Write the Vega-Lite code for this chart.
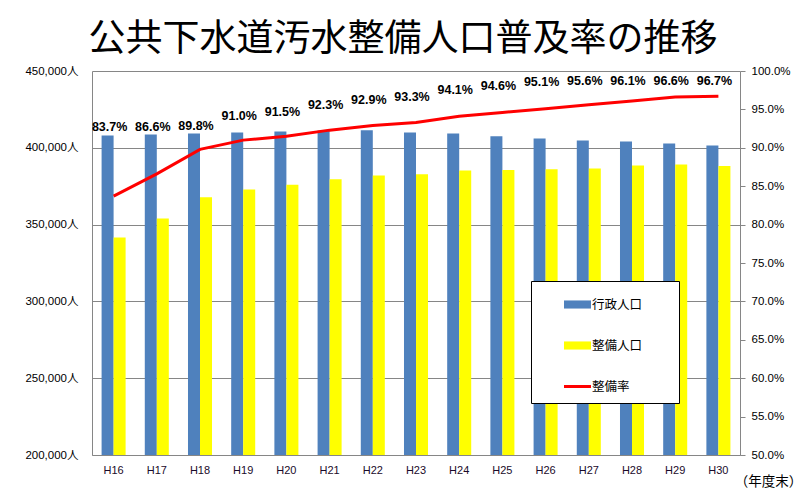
{
  "$schema": "https://vega.github.io/schema/vega-lite/v6.json",
  "width": 648,
  "height": 384,
  "autosize": {"type": "none"},
  "padding": {"left": 92, "top": 71, "right": 65, "bottom": 43},
  "background": "white",
  "title": {
    "text": "公共下水道汚水整備人口普及率の推移",
    "font": "Noto Sans CJK JP",
    "fontSize": 37,
    "fontWeight": "normal",
    "color": "black",
    "anchor": "middle",
    "frame": "group",
    "baseline": "middle",
    "offset": -12,
    "dx": -13
  },
  "data": {
    "values": [
      {"year": "H16", "行政人口": 408000, "整備人口": 341600, "rate": 0.837},
      {"year": "H17", "行政人口": 408600, "整備人口": 353900, "rate": 0.866},
      {"year": "H18", "行政人口": 409300, "整備人口": 367800, "rate": 0.898},
      {"year": "H19", "行政人口": 410000, "整備人口": 372800, "rate": 0.910},
      {"year": "H20", "行政人口": 410600, "整備人口": 376000, "rate": 0.915},
      {"year": "H21", "行政人口": 411200, "整備人口": 379600, "rate": 0.923},
      {"year": "H22", "行政人口": 411500, "整備人口": 382000, "rate": 0.929},
      {"year": "H23", "行政人口": 410000, "整備人口": 382700, "rate": 0.933},
      {"year": "H24", "行政人口": 409300, "整備人口": 385300, "rate": 0.941},
      {"year": "H25", "行政人口": 407600, "整備人口": 385600, "rate": 0.946},
      {"year": "H26", "行政人口": 406000, "整備人口": 386000, "rate": 0.951},
      {"year": "H27", "行政人口": 404700, "整備人口": 386600, "rate": 0.956},
      {"year": "H28", "行政人口": 404100, "整備人口": 388500, "rate": 0.961},
      {"year": "H29", "行政人口": 402800, "整備人口": 389200, "rate": 0.966},
      {"year": "H30", "行政人口": 401500, "整備人口": 388200, "rate": 0.967}
    ]
  },
  "encoding": {
    "x": {
      "field": "year",
      "type": "nominal",
      "sort": null,
      "scale": {"paddingInner": 0.444, "paddingOuter": 0.222},
      "axis": {
        "title": "（年度末）",
        "titleFont": "Noto Sans CJK JP",
        "titleFontSize": 13.5,
        "titleFontWeight": "normal",
        "titleColor": "black",
        "titleX": 676,
        "titleY": 26,
        "titleAlign": "center",
        "titleBaseline": "middle",
        "labelAngle": 0,
        "labelFont": "Liberation Sans",
        "labelFontSize": 11,
        "labelColor": "#1a0a2a",
        "labelPadding": 9,
        "ticks": false,
        "tickSize": 0,
        "domainColor": "#868686",
        "grid": false
      }
    }
  },
  "layer": [
    {
      "transform": [{"fold": ["行政人口", "整備人口"], "as": ["key", "value"]}],
      "mark": {"type": "bar", "clip": true},
      "encoding": {
        "xOffset": {
          "field": "key",
          "type": "nominal",
          "sort": ["行政人口", "整備人口"],
          "scale": {"paddingInner": 0, "paddingOuter": 0}
        },
        "y": {
          "field": "value",
          "type": "quantitative",
          "scale": {"domain": [200000, 450000], "zero": false, "nice": false},
          "axis": {
            "title": null,
            "values": [200000, 250000, 300000, 350000, 400000, 450000],
            "labelExpr": "format(datum.value, ',') + '人'",
            "labelFont": "Liberation Sans, Noto Sans CJK JP",
            "labelFontSize": 11.5,
            "labelColor": "black",
            "labelPadding": 14,
            "ticks": false,
            "tickSize": 0,
            "domainColor": "#868686",
            "grid": true,
            "gridColor": "#868686",
            "gridWidth": 1
          }
        },
        "color": {
          "field": "key",
          "type": "nominal",
          "scale": {
            "domain": ["行政人口", "整備人口", "整備率"],
            "range": ["#4F81BD", "#FFFF00", "#FF0000"]
          },
          "legend": {
            "orient": "none",
            "legendX": 439,
            "legendY": 210,
            "title": "　",
            "titleOrient": "right",
            "titlePadding": 27,
            "titleFontSize": 12.5,
            "direction": "vertical",
            "fillColor": "white",
            "strokeColor": "black",
            "padding": 10,
            "rowPadding": 21,
            "symbolOffset": 23,
            "labelOffset": 1,
            "symbolSize": 729,
            "labelFont": "Noto Sans CJK JP",
            "labelFontSize": 12.5,
            "labelColor": "black",
            "encode": {
              "symbols": {
                "update": {
                  "shape": {"signal": "datum.value === '整備率' ? 'M-1,-0.11H1V0.11H-1Z' : 'M-1,-0.3H1V0.3H-1Z'"},
                  "fill": {"signal": "scale('color', datum.value)"},
                  "stroke": {"value": "transparent"},
                  "strokeWidth": {"value": 0},
                  "opacity": {"value": 1}
                }
              }
            }
          }
        }
      }
    },
    {
      "mark": {"type": "line", "strokeWidth": 3},
      "encoding": {
        "y": {
          "field": "rate",
          "type": "quantitative",
          "scale": {"domain": [0.5, 1.0], "zero": false, "nice": false},
          "axis": {
            "orient": "right",
            "title": null,
            "values": [0.5, 0.55, 0.6, 0.65, 0.7, 0.75, 0.8, 0.85, 0.9, 0.95, 1.0],
            "format": ".1%",
            "labelFont": "Liberation Sans",
            "labelFontSize": 11.5,
            "labelColor": "black",
            "labelPadding": 6,
            "tickSize": 5,
            "tickColor": "#868686",
            "domainColor": "#868686",
            "grid": false
          }
        },
        "color": {"datum": "整備率"}
      }
    },
    {
      "mark": {
        "type": "text",
        "font": "Liberation Sans",
        "fontWeight": "bold",
        "fontSize": 12.5,
        "baseline": "middle",
        "dx": -4,
        "color": "black"
      },
      "encoding": {
        "y": {
          "field": "rate",
          "type": "quantitative",
          "scale": {
            "domain": [0.837, 0.898, 0.951, 0.967],
            "range": [56, 55, 10.7, 9.7],
            "zero": false,
            "nice": false
          },
          "axis": null
        },
        "text": {"field": "rate", "type": "quantitative", "format": ".1%"}
      }
    }
  ],
  "resolve": {"scale": {"y": "independent"}},
  "config": {
    "view": {"stroke": null},
    "font": "Liberation Sans"
  }
}
